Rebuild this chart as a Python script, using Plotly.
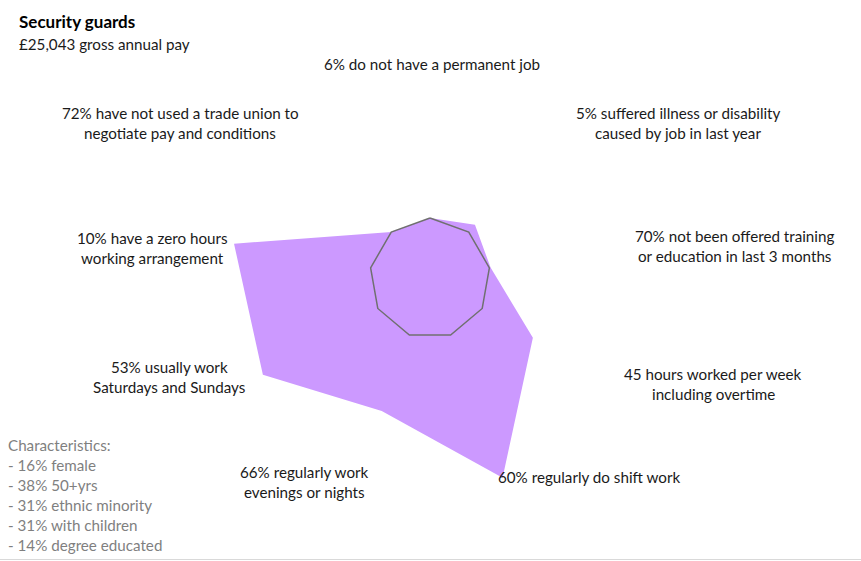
import plotly.graph_objects as go

# Radar axes (clockwise from the top) and their descriptive labels
axes = ["permanent", "illness", "training", "hours", "shift",
        "evenings", "weekends", "zero_hours", "union"]
axis_labels = [
    ["6% do not have a permanent job"],
    ["5% suffered illness or disability", "caused by job in last year"],
    ["70% not been offered training", "or education in last 3 months"],
    ["45 hours worked per week", "including overtime"],
    ["60% regularly do shift work"],
    ["66% regularly work", "evenings or nights"],
    ["53% usually work", "Saturdays and Sundays"],
    ["10% have a zero hours", "working arrangement"],
    ["72% have not used a trade union to", "negotiate pay and conditions"],
]
# Security guards relative to the all-worker average (average = 1)
occupation_index = [1.0, 1.16, 1.02, 1.97, 3.52, 2.34, 3.20, 3.30, 1.0]
average_index = [1.0] * len(axes)

title = "Security guards"
subtitle = "£25,043 gross annual pay"
characteristics = ["Characteristics:", "- 16% female", "- 38% 50+yrs",
                   "- 31% ethnic minority", "- 31% with children",
                   "- 14% degree educated"]

W, H = 861, 561
FONT = "Lato"
TEXT = "#1a1a1a"
SIZE = 15.2

fig = go.Figure()
fig.add_trace(go.Scatterpolar(
    r=occupation_index + occupation_index[:1], theta=axes + axes[:1],
    mode="lines", fill="toself", fillcolor="#CC99FF",
    line=dict(width=0, color="#CC99FF"), hoverinfo="skip", showlegend=False))
fig.add_trace(go.Scatterpolar(
    r=average_index + average_index[:1], theta=axes + axes[:1],
    mode="lines", line=dict(color="#707070", width=1.5),
    hoverinfo="skip", showlegend=False))

# label anchor points (pixel centres of the first text line)
label_pos = [(432, 64), (678, 113), (734, 236), (713, 374), (589, 477),
             (304, 472), (169, 367), (152, 238), (180, 113)]
annotations = []
for lines, (cx, cy) in zip(axis_labels, label_pos):
    for k, line in enumerate(lines):
        annotations.append(dict(
            text=line, x=cx / W, y=1 - (cy + 20 * k) / H,
            xref="paper", yref="paper", xanchor="center", yanchor="middle",
            showarrow=False, font=dict(family=FONT, size=SIZE, color=TEXT)))

annotations.append(dict(text="<b>" + title + "</b>", x=17 / W, y=1 - 22 / H,
                        xref="paper", yref="paper", xanchor="left", yanchor="middle",
                        showarrow=False, font=dict(family=FONT, size=17, color="#000000")))
annotations.append(dict(text=subtitle, x=17 / W, y=1 - 44 / H,
                        xref="paper", yref="paper", xanchor="left", yanchor="middle",
                        showarrow=False, font=dict(family=FONT, size=SIZE, color=TEXT)))
for k, line in enumerate(characteristics):
    annotations.append(dict(text=line, x=6 / W, y=1 - (445 + 20 * k) / H,
                            xref="paper", yref="paper", xanchor="left", yanchor="middle",
                            showarrow=False,
                            font=dict(family=FONT, size=SIZE, color="#7f7f7f")))

cx, cy, radius = 430, 278.3, 241.2
fig.update_layout(
    width=W, height=H, margin=dict(l=0, r=0, t=0, b=0),
    paper_bgcolor="white", plot_bgcolor="white",
    polar=dict(
        domain=dict(x=[(cx - radius) / W, (cx + radius) / W],
                    y=[(H - cy - radius) / H, (H - cy + radius) / H]),
        bgcolor="rgba(0,0,0,0)",
        radialaxis=dict(range=[0, 4], visible=False, showgrid=False),
        angularaxis=dict(rotation=90, direction="clockwise", showgrid=False,
                         showline=False, showticklabels=False, ticks=""),
    ),
    annotations=annotations,
    shapes=[dict(type="line", xref="paper", yref="paper", x0=0, x1=1,
                 y0=1.5 / H, y1=1.5 / H, line=dict(color="#d9d9d9", width=1))],
)

fig.write_html("out.html")
